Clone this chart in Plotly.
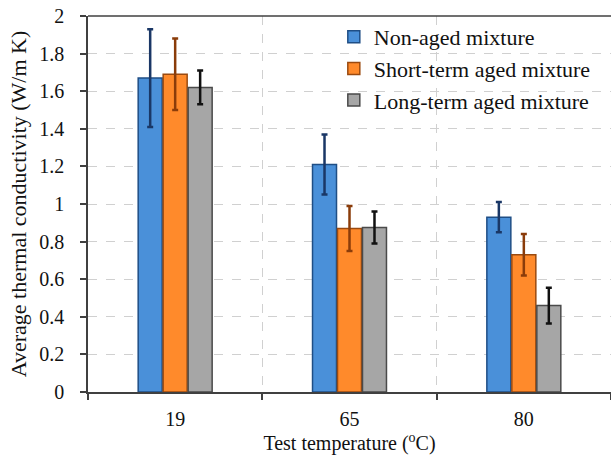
import plotly.graph_objects as go

categories = ["19", "65", "80"]
series_names = ["Non-aged mixture", "Short-term aged mixture", "Long-term aged mixture"]
non_aged = [1.67, 1.21, 0.93]
non_aged_err = [0.26, 0.16, 0.08]
short_term = [1.69, 0.87, 0.73]
short_term_err = [0.19, 0.12, 0.11]
long_term = [1.62, 0.875, 0.46]
long_term_err = [0.09, 0.085, 0.095]

values = [non_aged, short_term, long_term]
errors = [non_aged_err, short_term_err, long_term_err]
fill_colors = ["#4A90D9", "#FF8A2B", "#A6A6A6"]
edge_colors = ["#1F4E85", "#9A4A10", "#4A4A4A"]
err_colors = ["#1A3766", "#8A3C0A", "#111111"]

FONT = "Liberation Serif"

fig = go.Figure()
for name, v, e, fc, ec, erc in zip(series_names, values, errors, fill_colors, edge_colors, err_colors):
    fig.add_trace(go.Bar(
        x=categories, y=v, name=name,
        marker=dict(color=fc, line=dict(color=ec, width=1.5)),
        error_y=dict(type="data", array=e, visible=True, color=erc, thickness=2.5, width=3),
    ))

fig.update_layout(
    width=611, height=459,
    margin=dict(l=88, r=0, t=16, b=67),
    paper_bgcolor="white", plot_bgcolor="white",
    barmode="group", bargap=0.57, bargroupgap=0.04,
    font=dict(family=FONT, color="#111111", size=20),
    showlegend=True,
    legend=dict(
        x=0.47, y=1.0, xanchor="left", yanchor="top",
        font=dict(family=FONT, size=22, color="#111111"),
        bgcolor="rgba(255,255,255,0)", tracegroupgap=0,
    ),
    xaxis=dict(
        type="category", tickson="boundaries",
        showline=True, linecolor="#404040", linewidth=1.5,
        ticks="outside", ticklen=6, tickcolor="#404040", tickwidth=1.5,
        showgrid=True, gridcolor="#D0D0D0", griddash="dash", gridwidth=1,
        tickfont=dict(family=FONT, size=20),
        ticklabelstandoff=8,
        title=dict(text="Test temperature (<sup>o</sup>C)", font=dict(family=FONT, size=20), standoff=4),
    ),
    yaxis=dict(
        range=[0, 2], dtick=0.2, tick0=0,
        showline=True, linecolor="#404040", linewidth=1.5,
        ticks="outside", ticklen=6, tickcolor="#404040", tickwidth=1.5,
        showgrid=True, gridcolor="#D0D0D0", griddash="dash", gridwidth=1,
        zeroline=False,
        tickfont=dict(family=FONT, size=20),
        ticklabelstandoff=12,
        title=dict(text="Average thermal conductivity (W/m K)", font=dict(family=FONT, size=22), standoff=7),
    ),
    shapes=[dict(type="line", xref="paper", yref="paper", x0=0, x1=1, y0=1, y1=1,
                 line=dict(color="#404040", width=1.5))],
)

fig.write_html("out.html")
